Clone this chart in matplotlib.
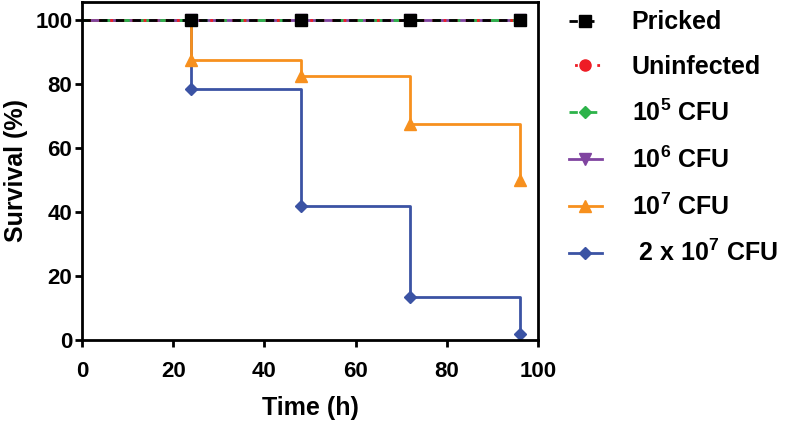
import numpy as np
import matplotlib
matplotlib.use("Agg")
import matplotlib.pyplot as plt

plt.rcParams['font.family'] = 'Liberation Sans'
plt.rcParams['font.weight'] = 'bold'
plt.rcParams['mathtext.fontset'] = 'custom'
plt.rcParams['mathtext.rm'] = 'Liberation Sans:bold'
plt.rcParams['mathtext.bf'] = 'Liberation Sans:bold'

# data
time_h = [0, 24, 48, 72, 96]
pricked = [100, 100, 100, 100, 100]
uninfected = [100, 100, 100, 100, 100]
cfu_1e5 = [100, 100, 100, 100, 100]
cfu_1e6 = [100, 100, 100, 100, 100]
cfu_1e7 = [100, 87.5, 82.5, 67.5, 50]
cfu_2e7 = [100, 78.3, 41.7, 13.3, 1.7]

labels = ['Pricked', 'Uninfected', r'10$^{5}$ CFU', r'10$^{6}$ CFU',
          r'10$^{7}$ CFU', r' 2 x 10$^{7}$ CFU']

fig = plt.figure(figsize=(8, 4.33), dpi=100)
ax = fig.add_axes([0.1025, 0.215, 0.57, 0.7805])

lw = 2
ms = 8
kw = dict(drawstyle='steps-post', lw=lw, markevery=[1, 2, 3, 4], ms=ms)

h_2e7, = ax.plot(time_h, cfu_2e7, color='#3b53a4', marker='D', label=labels[5], **dict(kw, ms=6.5))
h_1e7, = ax.plot(time_h, cfu_1e7, color='#f7901e', marker='^', label=labels[4], **kw)
h_1e6, = ax.plot(time_h, cfu_1e6, color='#8044a0', marker='v', label=labels[3], **kw)
h_1e5, = ax.plot(time_h, cfu_1e5, color='#2db34a', marker='D', ls=(0, (3, 4)), label=labels[2], **dict(kw, ms=6.5))
h_un, = ax.plot(time_h, uninfected, color='#ee1c25', marker='o', ls=(2, (1, 3)), label=labels[1], **kw)
h_pr, = ax.plot(time_h, pricked, color='black', marker='s', ls=(0, (3, 3)), label=labels[0], **kw)

ax.set_xlim(0, 100)
ax.set_ylim(0, 105.6)
ax.set_xticks([0, 20, 40, 60, 80, 100])
ax.set_yticks([0, 20, 40, 60, 80, 100])
ax.tick_params(width=2, length=5, labelsize=16, direction='out')
ax.tick_params(axis='x', pad=10)
ax.tick_params(axis='y', pad=2)
for s in ax.spines.values():
    s.set_linewidth(2)
ax.set_xlabel('Time (h)', fontsize=18, fontweight='bold', labelpad=10)
ax.set_ylabel('Survival (%)', fontsize=18, fontweight='bold', labelpad=5)

handles = [h_pr, h_un, h_1e5, h_1e6, h_1e7, h_2e7]
fig.legend(handles, labels, loc='upper left', bbox_to_anchor=(0.711, 0.976),
           frameon=False, fontsize=18, borderpad=0, borderaxespad=0,
           handlelength=1.32, handletextpad=1.2, labelspacing=0.82)

fig.savefig('out.png', dpi=100)
